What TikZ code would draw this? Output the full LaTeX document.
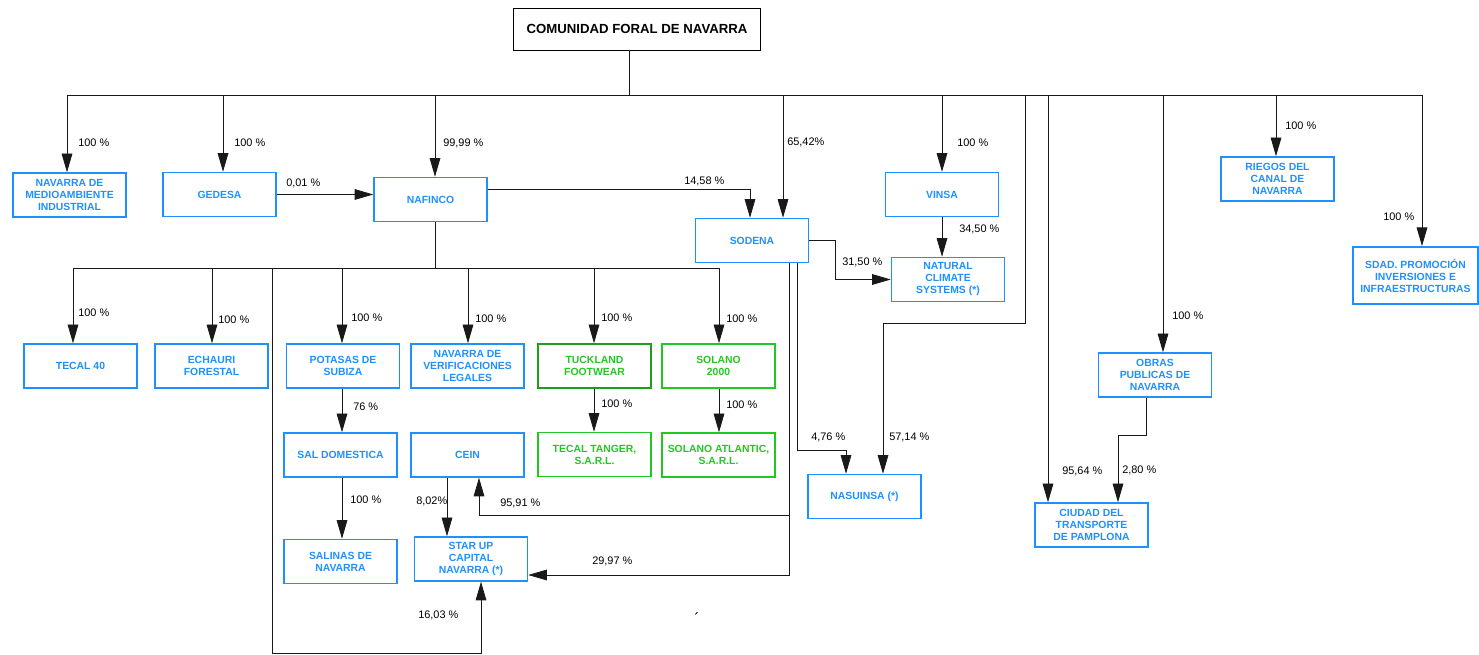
\documentclass[tikz,border=0pt]{standalone}
\usepackage{fontspec}
\setmainfont{Liberation Sans}
\usetikzlibrary{arrows.meta}
\definecolor{entblue}{RGB}{30,144,255}
\definecolor{entgreen}{RGB}{34,200,34}

\begin{document}
\begin{tikzpicture}[x=0.75pt,y=-0.75pt,
    >={Triangle[length=14pt,width=8pt]},
    ent/.style={draw=entblue,text=entblue,line width=1.1pt,minimum width=84.75pt,
      minimum height=33pt,inner sep=1pt,align=center,
      font=\fontsize{7.8}{9}\selectfont\bfseries},
    entg/.style={ent,draw=entgreen,text=entgreen},
    pct/.style={anchor=west,inner sep=0pt,font=\fontsize{8.2}{10}\selectfont},
    lnk/.style={line width=0.6pt,draw=black!90},
    arr/.style={lnk,->}]
    \useasboundingbox (0,0) rectangle (1479,655);
    % cabecera
    \node[draw,line width=0.7pt,minimum width=185pt,minimum height=31.5pt,
      font=\fontsize{9.9}{12}\selectfont\bfseries] (cfn) at (637,29) {COMUNIDAD FORAL DE NAVARRA};
    % primer nivel
    \node[ent] (nmi) at (69.5,195) {NAVARRA DE\\MEDIOAMBIENTE\\INDUSTRIAL};
    \node[ent] (ged) at (219.5,194.5) {GEDESA};
    \node[ent] (naf) at (430.5,199.5) {NAFINCO};
    \node[ent] (sod) at (752,240.5) {SODENA};
    \node[ent] (vin) at (942,194.5) {VINSA};
    \node[ent] (ncs) at (948,279.5) {NATURAL\\CLIMATE\\SYSTEMS (*)};
    \node[ent] (rie) at (1277.5,179) {RIEGOS DEL\\CANAL DE\\NAVARRA};
    \node[ent,minimum width=93.75pt,minimum height=43pt] (sdp) at (1415.5,275.5) {SDAD. PROMOCIÓN\\INVERSIONES E\\INFRAESTRUCTURAS};
    \node[ent] (opn) at (1155,375) {OBRAS\\PUBLICAS DE\\NAVARRA};
    \node[ent] (ctp) at (1091.5,525) {CIUDAD DEL\\TRANSPORTE\\DE PAMPLONA};
    \node[ent] (nas) at (864.5,496.5) {NASUINSA (*)};
    % filiales de NAFINCO
    \node[ent] (t40) at (80.5,366) {TECAL 40};
    \node[ent] (ech) at (211.5,366) {ECHAURI\\FORESTAL};
    \node[ent] (pot) at (343,366) {POTASAS DE\\SUBIZA};
    \node[ent] (nvl) at (467.5,366) {NAVARRA DE\\VERIFICACIONES\\LEGALES};
    \node[entg,draw=entgreen!80!black] (tuc) at (594.5,366) {TUCKLAND\\FOOTWEAR};
    \node[entg] (sol) at (718.5,366) {SOLANO\\2000};
    \node[entg] (tta) at (594.5,454.5) {TECAL TANGER,\\S.A.R.L.};
    \node[entg] (sat) at (718.5,455) {SOLANO ATLANTIC,\\S.A.R.L.};
    \node[ent] (sal) at (340.5,455) {SAL DOMESTICA};
    \node[ent] (cei) at (467.5,455) {CEIN};
    \node[ent] (sna) at (340.5,561.5) {SALINAS DE\\NAVARRA};
    \node[ent] (sup) at (471,559) {STAR UP\\CAPITAL\\NAVARRA (*)};
    % puntos de las lineas
    \coordinate (top) at (629,95);
    \coordinate (b1) at (67,95);
    \coordinate (b2) at (223,95);
    \coordinate (b3) at (435,95);
    \coordinate (b4) at (783,95);
    \coordinate (b5) at (942,95);
    \coordinate (b6) at (1025,95);
    \coordinate (b7) at (1048,95);
    \coordinate (b8) at (1163,95);
    \coordinate (b9) at (1276,95);
    \coordinate (b10) at (1422,95);
    \coordinate (n57) at (883,323);
    \coordinate (c28) at (1118,435);
    \coordinate (n0) at (435,268);
    \coordinate (c1) at (73,268);
    \coordinate (c2) at (212,268);
    \coordinate (c3) at (272,268);
    \coordinate (c4) at (342,268);
    \coordinate (c5) at (468,268);
    \coordinate (c6) at (594,268);
    \coordinate (c7) at (719,268);
    \coordinate (s16) at (481,653);
    \coordinate (k8) at (447,520);
    \coordinate (s95) at (789,515);
    \coordinate (c95) at (479,515);
    \coordinate (s29) at (789,575);
    \coordinate (s47) at (797,450);
    \coordinate (n47) at (846,450);
    % lineas
    \draw[lnk] (cfn.south -| top) -- (top);
    \draw[lnk] (b1) -- (b10);
    \draw[arr] (b1) -- (b1 |- nmi.north);
    \draw[arr] (b2) -- (b2 |- ged.north);
    \draw[arr] (b3) -- (b3 |- naf.north);
    \draw[arr] (ged.east) -- (ged.east -| naf.west);
    \draw[arr] ([yshift=7.5pt]naf.east) -| ([xshift=-1.5pt]sod.north);
    \draw[arr] (b4) -- (b4 |- sod.north);
    \draw[arr] (b5) -- (b5 |- vin.north);
    \draw[arr] (vin.south) -- (vin.south |- ncs.north);
    \draw[arr] (sod.east) -- ++(26,0) |- (ncs.west);
    \draw[arr] (b6) |- (n57) -- (n57 |- nas.north);
    \draw[arr] (b7) -- (b7 |- ctp.north);
    \draw[arr] (b8) -- (b8 |- opn.north);
    \draw[arr] ([xshift=-6.75pt]opn.south) |- (c28) -- (c28 |- ctp.north);
    \draw[arr] (b9) -- (b9 |- rie.north);
    \draw[arr] (b10) -- (b10 |- sdp.north);
    \draw[lnk] (naf.south -| n0) -- (n0);
    \draw[lnk] (c1) -- (c7);
    \draw[arr] (c1) -- (c1 |- t40.north);
    \draw[arr] (c2) -- (c2 |- ech.north);
    \draw[arr] (c4) -- (c4 |- pot.north);
    \draw[arr] (c5) -- (c5 |- nvl.north);
    \draw[arr] (c6) -- (c6 |- tuc.north);
    \draw[arr] (c7) -- (c7 |- sol.north);
    \draw[arr] (c3) |- (s16) -- (s16 |- sup.south);
    \draw[arr] (pot.south -| c4) -- (c4 |- sal.north);
    \draw[arr] (sal.south -| c4) -- (c4 |- sna.north);
    \draw[arr] (tuc.south -| c6) -- (c6 |- tta.north);
    \draw[arr] (sol.south -| c7) -- (c7 |- sat.north);
    \draw[arr] (cei.south -| k8) -- (k8 |- sup.north);
    \draw[arr] (sod.south -| s95) -- (s95) -- (c95) -- (c95 |- cei.south);
    \draw[arr] (sod.south -| s29) -- (s29) -- (s29 -| sup.east);
    \draw[arr] (sod.south -| s47) -- (s47) -- (n47) -- (n47 |- nas.north);
    % porcentajes
    \node[pct] (p1) at (78,143) {100 \%};
    \node[pct] (p2) at (234,143) {100 \%};
    \node[pct] (p3) at (443,143) {99,99 \%};
    \node[pct] (p4) at (286,183) {0,01 \%};
    \node[pct] (p5) at (684,181) {14,58 \%};
    \node[pct] (p6) at (787,142) {65,42\%};
    \node[pct] (p7) at (957,143) {100 \%};
    \node[pct] (p8) at (959,229) {34,50 \%};
    \node[pct] (p9) at (842,262) {31,50 \%};
    \node[pct] (p10) at (1285,126) {100 \%};
    \node[pct] (p11) at (1383,217) {100 \%};
    \node[pct] (p12) at (1172,316) {100 \%};
    \node[pct] (p13) at (1062,471) {95,64 \%};
    \node[pct] (p14) at (1122,470) {2,80 \%};
    \node[pct] (p15) at (811,437) {4,76 \%};
    \node[pct] (p16) at (889,437) {57,14 \%};
    \node[pct] (p17) at (78,313) {100 \%};
    \node[pct] (p18) at (218,320) {100 \%};
    \node[pct] (p19) at (351,318) {100 \%};
    \node[pct] (p20) at (475,319) {100 \%};
    \node[pct] (p21) at (601,318) {100 \%};
    \node[pct] (p22) at (726,319) {100 \%};
    \node[pct] (p23) at (601,404) {100 \%};
    \node[pct] (p24) at (726,405) {100 \%};
    \node[pct] (p25) at (353,407) {76 \%};
    \node[pct] (p26) at (350,500) {100 \%};
    \node[pct] (p27) at (416,501) {8,02\%};
    \node[pct] (p28) at (500,503) {95,91 \%};
    \node[pct] (p29) at (592,561) {29,97 \%};
    \node[pct] (p30) at (418,615) {16,03 \%};
    \node[pct,font=\fontsize{12}{12}\selectfont] (mk) at (694,619) {´};
  \end{tikzpicture}
\end{document}
